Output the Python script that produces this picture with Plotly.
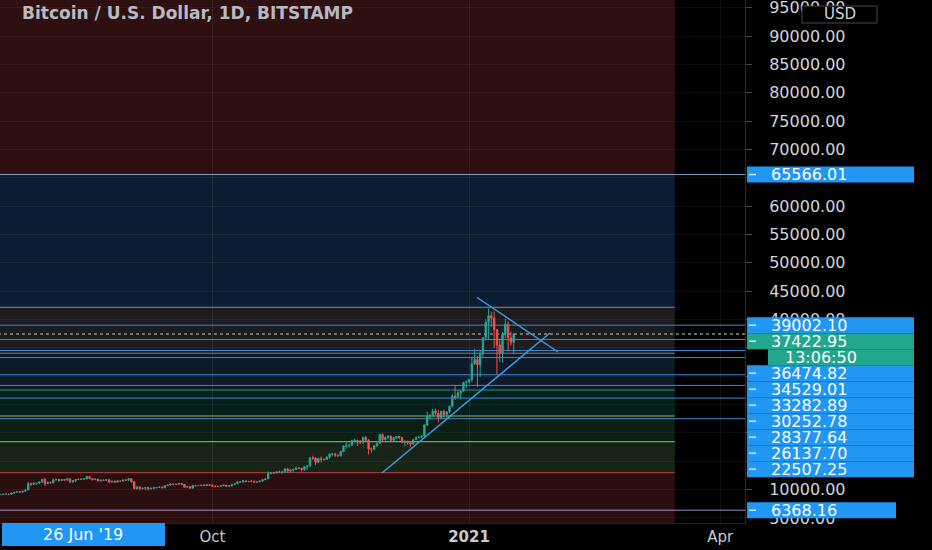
import plotly.graph_objects as go
import pandas as pd

# ---------------- data ----------------
title_text = "Bitcoin / U.S. Dollar, 1D, BITSTAMP"
start_date = "2020-07-17"
first_open = 9130.0
highs = [9190, 9200, 9240, 9220, 9420, 9540, 9650, 9650, 9740, 10070, 11390, 11250, 11340, 11170, 11450,
         11860, 12080, 11480, 11420, 11790, 11900, 11910, 11800, 11800, 12070, 12050, 11620, 11800, 12000, 11990,
         11950, 12470, 12390, 12020, 11880, 11880, 11690, 11720, 11820, 11750, 11530, 11590, 11550, 11570, 11720, 11770,
         12050, 11940, 11430, 10590, 10560, 10350, 10400, 10440, 10350, 10500, 10400, 10480, 10570, 10800, 10930,
         11100, 11040, 11040, 11180, 11080, 10980, 10580, 10540, 10780, 10760, 10790, 10800, 10950, 10860, 10850,
         10940, 10650, 10600, 10690, 10800, 10800, 10690, 10950, 11100, 11490, 11420, 11720, 11560, 11550, 11620,
         11540, 11400, 11500, 11820, 12020, 13200, 13020, 13020, 13170, 13340, 13250, 13790, 13850, 13650, 13680, 14050,
         13890, 13820, 14070, 14250, 15750, 15970, 15720, 15650, 15850, 15470, 15950, 16340, 16480, 16330, 16140,
         16860, 17840, 18470, 18140, 18800, 18970, 18750, 18750, 19400, 19470, 18900, 17450, 17880, 18330, 19860,
         19930, 19330, 19560, 19500, 19180, 19420, 19420, 19290, 18640, 18560, 18280, 18940, 19400, 19350, 19570,
         21560, 23770, 23280, 24250, 24300, 24100, 23850, 24100, 23800, 24780, 26850, 28400, 27500, 27400, 29000, 29300,
         29600, 33300, 34800, 33600, 34500, 36900, 40000, 41950, 41380, 41400, 38300, 36600, 37800, 40100, 39700,
         37900, 37600]
lows = [9060, 9100, 9110, 9130, 9150, 9270, 9480, 9460, 9530, 9660, 9920, 10600, 10870, 10830, 10990,
        11220, 10640, 11000, 11030, 11100, 11590, 11380, 11530, 11560, 11530, 11150, 11150, 11300, 11700, 11700,
        11680, 11790, 11820, 11580, 11680, 11500, 11400, 11540, 11600, 11120, 11260, 11180, 11290, 11450, 11460, 11580,
        11620, 11190, 10050, 9960, 9880, 10020, 9890, 9840, 10030, 10200, 10200, 10300, 10220, 10250, 10630,
        10680, 10750, 10820, 10900, 10780, 10280, 10370, 10150, 10200, 10560, 10650, 10630, 10680, 10640, 10690,
        10440, 10380, 10510, 10530, 10630, 10530, 10560, 10530, 10820, 11060, 11250, 11200, 11300, 11280, 11260,
        11220, 11300, 11350, 11400, 11680, 11900, 12700, 12730, 12900, 12920, 12790, 13050, 12950, 12990, 13130, 13450,
        13620, 13200, 13300, 13540, 14080, 15200, 14350, 14700, 14800, 15090, 15280, 15440, 15970, 15770, 15850,
        15880, 16560, 17240, 17370, 17760, 18360, 17700, 18010, 18030, 18570, 16200, 16500, 16880, 17530, 18180,
        18330, 18650, 18920, 18580, 18540, 18920, 18900, 18200, 17650, 17900, 17570, 18000, 18730, 19000, 19050,
        19280, 21230, 22350, 22810, 23080, 21850, 22380, 22700, 22700, 23430, 24500, 25800, 26100, 25880, 27320, 27850,
        28700, 28950, 32000, 28100, 29900, 33400, 36300, 36500, 38700, 35000, 30300, 32500, 32400, 36700, 34400,
        35400, 33900]
closes = [9155, 9175, 9210, 9160, 9390, 9530, 9610, 9550, 9710, 9930, 11030, 10930, 11100, 11110, 11350,
          11800, 11070, 11230, 11190, 11740, 11770, 11600, 11760, 11680, 11880, 11390, 11570, 11780, 11770, 11860,
          11900, 12290, 11960, 11750, 11860, 11520, 11680, 11650, 11750, 11330, 11460, 11320, 11530, 11480, 11710, 11650,
          11920, 11390, 10170, 10470, 10170, 10250, 10370, 10130, 10230, 10340, 10390, 10440, 10330, 10680, 10790,
          10950, 10940, 10930, 11080, 10920, 10420, 10530, 10240, 10740, 10690, 10730, 10770, 10700, 10840, 10780,
          10620, 10570, 10550, 10670, 10790, 10600, 10670, 10920, 11060, 11300, 11370, 11540, 11420, 11430, 11500,
          11320, 11360, 11500, 11750, 11910, 12820, 12970, 12930, 13120, 13040, 13070, 13650, 13280, 13460, 13560, 13800,
          13760, 13550, 14020, 14150, 15590, 15580, 14830, 15480, 15330, 15310, 15700, 16280, 16320, 16070, 15960,
          16720, 17660, 17800, 17820, 18660, 18700, 18420, 18370, 19160, 18740, 17160, 17140, 17720, 18180, 19700,
          18790, 19220, 19450, 18700, 19150, 19360, 19170, 18320, 18550, 18250, 18030, 18810, 19170, 19270, 19440,
          21380, 22830, 23130, 23860, 23480, 22720, 23820, 23250, 23730, 24690, 26490, 26280, 27050, 27360, 28890, 28950,
          29380, 32200, 32950, 32000, 34000, 36800, 39500, 40650, 40250, 38200, 35500, 34000, 37400, 39150, 36800,
          36000, 37422.95]

x_ticks = ["2020-10-01", "2021-01-01", "2021-04-01"]
x_tick_labels = ["Oct", "<b>2021</b>", "Apr"]
y_ticks = list(range(5000, 100000, 5000))

ray_levels = [65566.01, 39002.10, 36474.82, 34529.01, 33282.89, 30252.78, 28377.64, 26137.70, 22507.25, 6368.16]
ray_colors = ["#7f9cc6", "#3f86d6", "#3f86d6", "#3f86d6", "#3f86d6", "#3f86d6", "#3f86d6", "#3f86d6", "#3f86d6", "#9a90c8"]
current_price = 37422.95
countdown_text = "13:06:50"
crosshair_date_text = "26 Jun '19"
currency_text = "USD"

fib_levels = [65600, 42152, 34039, 27566, 22981, 18448, 12981]
fib_line_colors = [None, "#8a8d96", "#787b86", "#0f9d7e", "#a2b04a", "#8fc28f", "#c4404a"]
zone_colors = ["#2e1010", "#0b1d31", "#1c1c1e", "#0e1a28", "#05201b", "#0c1f13", "#182416", "#2b0e0e"]
zone_end = "2021-03-15 18:00"
far_left = "2020-06-01"
far_right = "2021-06-01"

trend_up_x = ["2020-11-30 19:00", "2021-01-30 00:00"]
trend_up_y = [12928, 37619]
trend_down_x = ["2021-01-03 21:00", "2021-02-01 21:00"]
trend_down_y = [43880, 34268]

# ---------------- layout constants ----------------
W, H = 932, 550
ML, MR, MT, MB = 0, 187, 0, 27
PW, PH = W - ML - MR, H - MT - MB
Y_MIN, Y_MAX = 4109, 96349
X_RANGE = ["2020-07-16 21:30", "2021-04-09 21:40"]

BLUE = "#2196f3"
GREEN = "#22a68c"


def py(p):
    return PH * (Y_MAX - p) / (Y_MAX - Y_MIN)


def px2paper_y(y):
    return 1 - y / PH


def px2paper_x(x):
    return x / PW


dates = pd.date_range(start_date, periods=len(closes), freq="D")
opens = [first_open] + closes[:-1]

fig = go.Figure()
fig.add_trace(go.Candlestick(
    x=dates, open=opens, high=highs, low=lows, close=closes,
    increasing=dict(line=dict(color="#26a69a", width=1), fillcolor="#26a69a"),
    decreasing=dict(line=dict(color="#ef5350", width=1), fillcolor="#ef5350"),
    whiskerwidth=0, hoverinfo="skip", showlegend=False,
))

shapes = []
# zones
bounds = [Y_MAX] + fib_levels + [Y_MIN]
for i, col in enumerate(zone_colors):
    shapes.append(dict(type="rect", xref="x", yref="y", x0=far_left, x1=zone_end,
                       y0=bounds[i + 1], y1=bounds[i], fillcolor=col, line=dict(width=0), layer="below"))
# fib lines
for lvl, col in zip(fib_levels, fib_line_colors):
    if col is None:
        continue
    shapes.append(dict(type="line", xref="x", yref="y", x0=far_left, x1=zone_end, y0=lvl, y1=lvl,
                       line=dict(color=col, width=1), layer="between"))
# rays
for lvl, col in zip(ray_levels, ray_colors):
    shapes.append(dict(type="line", xref="x", yref="y", x0=far_left, x1=far_right, y0=lvl, y1=lvl,
                       line=dict(color=col, width=1), layer="between"))
# current price dotted
shapes.append(dict(type="line", xref="x", yref="y", x0=far_left, x1=far_right, y0=current_price, y1=current_price,
                   line=dict(color="#8a8d96", width=1.5, dash="dot"), layer="between"))
# trend lines
shapes.append(dict(type="line", xref="x", yref="y", x0=trend_up_x[0], x1=trend_up_x[1],
                   y0=trend_up_y[0], y1=trend_up_y[1], line=dict(color="#3d9be9", width=1.5), layer="above"))
shapes.append(dict(type="line", xref="x", yref="y", x0=trend_down_x[0], x1=trend_down_x[1],
                   y0=trend_down_y[0], y1=trend_down_y[1], line=dict(color="#3d9be9", width=1.5), layer="above"))

annotations = []

# price-axis labels, stacked like the platform does
labels = []
for lvl in ray_levels:
    labels.append(dict(price=lvl, text=f"{lvl:.2f}", color=BLUE, x0=747))
labels.append(dict(price=current_price, text=f"{current_price:.2f}", color=GREEN, x0=747))
labels.sort(key=lambda d: -d["price"])
ordered = []
for lab in labels:
    ordered.append(lab)
    if lab["price"] == current_price:
        ordered.append(dict(price=current_price, text=countdown_text, color=GREEN, x0=768, countdown=True))

LH = 16
prev = None
for lab in ordered:
    c = py(lab["price"])
    if prev is not None and c < prev + LH:
        c = prev + LH
    lab["cy"] = c
    prev = c

for lab in ordered:
    c = lab["cy"]
    n = len(lab["text"])
    x1 = 914 if n >= 8 else 914 - 18 * (8 - n)
    shapes.append(dict(type="rect", xref="paper", yref="paper",
                       x0=px2paper_x(lab["x0"]), x1=px2paper_x(x1),
                       y0=px2paper_y(c + LH / 2), y1=px2paper_y(c - LH / 2),
                       fillcolor=lab["color"], line=dict(width=0), layer="above"))
    if not lab.get("countdown"):
        shapes.append(dict(type="line", xref="paper", yref="paper",
                           x0=px2paper_x(749), x1=px2paper_x(756),
                           y0=px2paper_y(c), y1=px2paper_y(c),
                           line=dict(color="rgba(255,255,255,0.8)", width=1.5), layer="above"))
    tx = 769 if not lab.get("countdown") else 783
    annotations.append(dict(xref="paper", yref="paper", x=px2paper_x(tx), y=px2paper_y(c),
                            xanchor="left", yanchor="middle", text=lab["text"], showarrow=False,
                            font=dict(family="DejaVu Sans", size=16, color="#ffffff")))


# tick labels that sit behind the price labels stay blank (they are hidden in the original)
def covered(y):
    return any(lab["cy"] - LH / 2 <= y <= lab["cy"] + LH / 2 for lab in ordered)


y_tick_labels = []
for v in y_ticks:
    yc = py(v)
    hidden = covered(yc - 4.5) and covered(yc + 4.5) and covered(yc)
    y_tick_labels.append("" if hidden else f"{v:.2f}")

# USD box
shapes.append(dict(type="rect", xref="paper", yref="paper", x0=px2paper_x(802), x1=px2paper_x(877),
                   y0=px2paper_y(23), y1=px2paper_y(6), fillcolor="#000000",
                   line=dict(color="#4a4a4a", width=1), layer="above"))
annotations.append(dict(xref="paper", yref="paper", x=px2paper_x(839.5), y=px2paper_y(14.5),
                        xanchor="center", yanchor="middle", text=currency_text, showarrow=False,
                        font=dict(family="DejaVu Sans", size=15, color="#d1d4dc")))

# crosshair date box
shapes.append(dict(type="rect", xref="paper", yref="paper", x0=px2paper_x(2), x1=px2paper_x(165),
                   y0=px2paper_y(546), y1=px2paper_y(523), fillcolor=BLUE, line=dict(width=0), layer="above"))
annotations.append(dict(xref="paper", yref="paper", x=px2paper_x(83), y=px2paper_y(534.5),
                        xanchor="center", yanchor="middle", text=crosshair_date_text, showarrow=False,
                        font=dict(family="DejaVu Sans", size=16, color="#ffffff")))

# title
annotations.append(dict(xref="paper", yref="paper", x=px2paper_x(20), y=px2paper_y(13),
                        xanchor="left", yanchor="middle", text=title_text, showarrow=False,
                        font=dict(family="DejaVu Sans", size=17, color="#b8bac2", weight="bold")))

fig.update_layout(
    width=W, height=H,
    margin=dict(l=ML, r=MR, t=MT, b=MB, autoexpand=False),
    paper_bgcolor="#000000", plot_bgcolor="#000000",
    shapes=shapes, annotations=annotations,
    showlegend=False, hovermode=False,
    xaxis=dict(type="date", range=X_RANGE, rangeslider=dict(visible=False), automargin=False,
               tickvals=x_ticks, ticktext=x_tick_labels,
               tickfont=dict(family="DejaVu Sans", size=15, color="#c8cad0"),
               showgrid=True, gridcolor="rgba(255,255,255,0.07)", gridwidth=1,
               showline=True, linecolor="#222222", zeroline=False, ticks="", fixedrange=True),
    yaxis=dict(side="right", range=[Y_MIN, Y_MAX], tickvals=y_ticks, ticktext=y_tick_labels, automargin=False,
               tickfont=dict(family="DejaVu Sans", size=16, color="#d1d4dc"), ticklabeloverflow="allow",
               ticks="outside", ticklen=6, tickcolor="#4a4a4a", ticklabelstandoff=14,
               showgrid=True, gridcolor="rgba(255,255,255,0.05)", gridwidth=1,
               showline=True, linecolor="#2a2a2a", zeroline=False, fixedrange=True),
)

fig.write_html("out.html", config={"displayModeBar": False},
               post_script="document.body.style.margin='0';document.body.style.background='#000';document.body.style.overflow='hidden';")
